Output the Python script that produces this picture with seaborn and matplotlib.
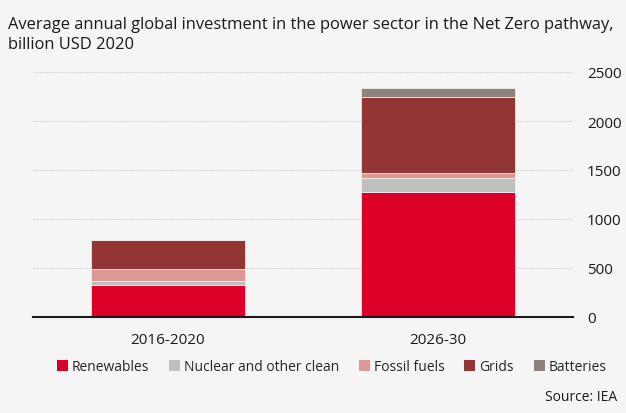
import matplotlib
matplotlib.use("Agg")
import matplotlib.pyplot as plt
import seaborn as sns
import pandas as pd
import numpy as np
from matplotlib.patches import Patch

categories = ["2016-2020", "2026-30"]
series = ["Renewables", "Nuclear and other clean", "Fossil fuels", "Grids", "Batteries"]
renewables = [322, 1274]
nuclear = [41, 146]
fossil = [129, 50]
grids = [296, 778]
batteries = [0, 86]
yticks = [0, 500, 1000, 1500, 2000, 2500]

colors = ["#dc0028", "#bfbfbf", "#dc9896", "#943535", "#8f827c"]
bg = "#f5f5f5"

sns.set_theme(style="white")
plt.rcParams["font.family"] = ["Open Sans", "DejaVu Sans"]

fig = plt.figure(figsize=(6.26, 4.14), dpi=100, facecolor=bg)
ax = fig.add_axes([33/626, 1 - 318/414, 540/626, (318-73)/414])
ax.set_facecolor(bg)

values = [renewables, nuclear, fossil, grids, batteries]
bottom = np.zeros(len(categories))
for name, vals, c in zip(series, values, colors):
    df = pd.DataFrame({"cat": categories, "val": vals})
    sns.barplot(data=df, x="cat", y="val", ax=ax, color=c, bottom=bottom,
                width=0.57, saturation=1, edgecolor=bg, linewidth=0.5, zorder=3)
    bottom = bottom + np.array(vals)

ax.set_xlim(-0.5, 1.5)
ax.set_ylim(0, 2500)
ax.set_yticks(yticks)
ax.yaxis.tick_right()
ax.tick_params(axis="y", length=0, pad=10, labelsize=11, colors="#1a1a1a")
ax.tick_params(axis="x", length=0, pad=11, labelsize=11, colors="#1a1a1a")
ax.set_xlabel("")
ax.set_ylabel("")
for y in yticks[1:]:
    ax.axhline(y, color="#cccccc", linewidth=0.8, linestyle=(0, (1, 1)), zorder=1)
for s in ["top", "left", "right"]:
    ax.spines[s].set_visible(False)
ax.spines["bottom"].set_color("#1a1a1a")
ax.spines["bottom"].set_linewidth(1.5)
ax.spines["bottom"].set_zorder(4)

fig.text(8/626, 1 - 35/414, "Average annual global investment in the power sector in the Net Zero pathway,\nbillion USD 2020",
         fontsize=11.9, color="#1a1a1a", va="center", ha="left", linespacing=1.3)

handles = [Patch(facecolor=c, edgecolor="none") for c in colors]
fig.legend(handles, series, loc="center", bbox_to_anchor=(0.53, 1 - 368/414), ncol=5,
           frameon=False, fontsize=10, handlelength=0.8, handleheight=0.8,
           handletextpad=0.3, columnspacing=1.4)
fig.text(617/626, 1 - 398/414, "Source: IEA", fontsize=10, ha="right", va="center", color="#1a1a1a")

fig.savefig("out.png", dpi=100, facecolor=bg)
